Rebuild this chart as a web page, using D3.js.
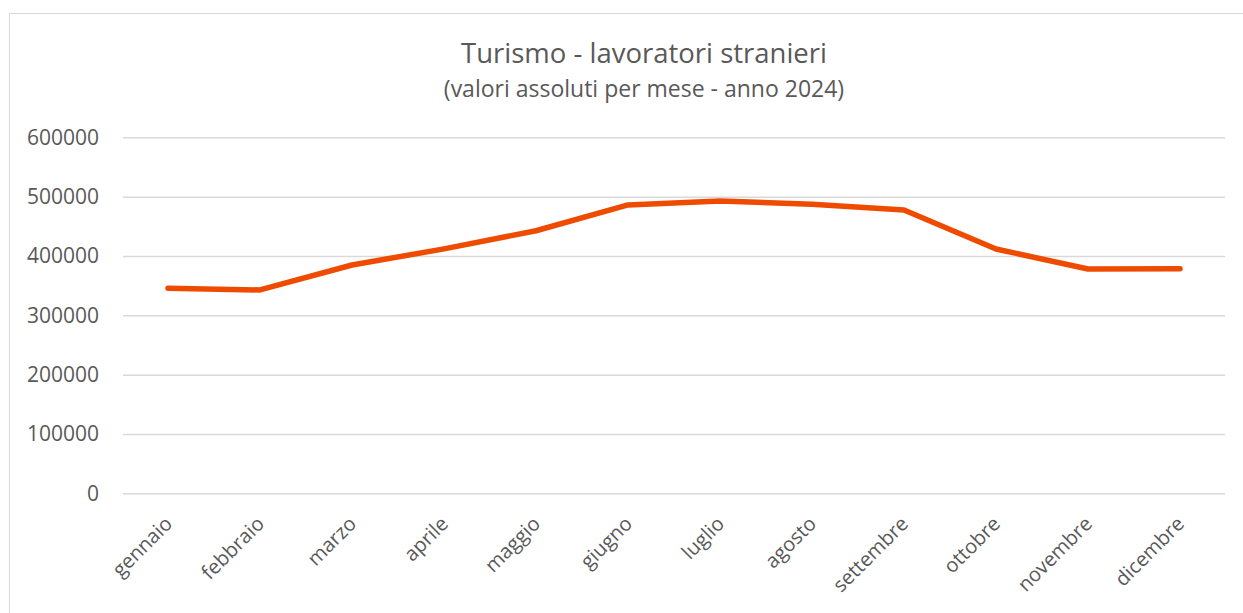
<!DOCTYPE html>
<html>
<head>
<meta charset="utf-8">
<script src="https://cdn.jsdelivr.net/npm/d3@7"></script>
<style>
  html, body { margin: 0; padding: 0; background: #fff; }
  svg { display: block; }
  text { font-family: "Open Sans", sans-serif; fill: #595959; }
</style>
</head>
<body>
<svg id="chart" width="1243" height="613"></svg>
<script>
const months = ["gennaio","febbraio","marzo","aprile","maggio","giugno","luglio","agosto","settembre","ottobre","novembre","dicembre"];
const workers = [345500, 342700, 384800, 412000, 442500, 486000, 492700, 487000, 477500, 411800, 378000, 378600];
const yTicks = [0, 100000, 200000, 300000, 400000, 500000, 600000];
const titleText = "Turismo - lavoratori stranieri";
const subtitleText = "(valori assoluti per mese - anno 2024)";

const svg = d3.select("#chart");
const W = 1243, H = 613;

// chart border
svg.append("rect")
  .attr("x", 9.5).attr("y", 13.5)
  .attr("width", W).attr("height", H)
  .attr("fill", "none").attr("stroke", "#D9D9D9").attr("stroke-width", 1);

const x = d3.scalePoint().domain(months).range([168, 1180]);
const y = d3.scaleLinear().domain([0, 600000]).range([493.3, 137.3]);

// gridlines
const yAxis = d3.axisLeft(y).tickValues(yTicks).tickSize(-(1225 - 123)).tickPadding(24).tickFormat(d3.format("d"));
const gy = svg.append("g").attr("transform", "translate(123,0)").call(yAxis);
gy.select(".domain").remove();
gy.selectAll(".tick line").attr("stroke", "#D9D9D9").attr("stroke-width", 1.5);
gy.selectAll(".tick text").attr("font-size", 21).attr("fill", "#595959").attr("x", -24);

// x labels
const xAxis = d3.axisBottom(x).tickSize(0).tickPadding(0);
const gx = svg.append("g").attr("transform", "translate(0,494)").call(xAxis);
gx.select(".domain").remove();
gx.selectAll(".tick text")
  .attr("font-size", 20)
  .attr("fill", "#595959")
  .attr("text-anchor", "end")
  .attr("transform", "translate(-5,21) rotate(-45)")
  .attr("dy", "0.71em")
  .attr("y", 0);

// line
const line = d3.line().x((d, i) => x(months[i])).y(d => y(d));
svg.append("path")
  .datum(workers)
  .attr("d", line)
  .attr("fill", "none")
  .attr("stroke", "#EF4B00")
  .attr("stroke-width", 5.5)
  .attr("stroke-linejoin", "round")
  .attr("stroke-linecap", "round");

// titles
svg.append("text").attr("x", 644).attr("y", 63).attr("text-anchor", "middle")
  .attr("font-size", 27.5).text(titleText);
svg.append("text").attr("x", 644).attr("y", 97).attr("text-anchor", "middle")
  .attr("font-size", 23).text(subtitleText);
</script>
</body>
</html>
